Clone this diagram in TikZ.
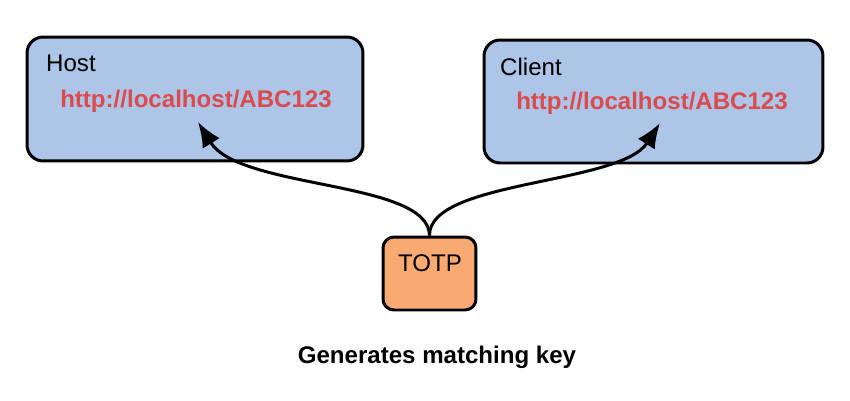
\documentclass[tikz,border=0pt]{standalone}
\usepackage{fontspec}
\setmainfont{Liberation Sans}
\usetikzlibrary{arrows.meta}
\definecolor{boxblue}{HTML}{ADC5E7}
\definecolor{boxorange}{HTML}{F9AA73}
\definecolor{urlred}{HTML}{DB4B4E}
\tikzset{
	panel/.style={draw=black, line width=1.7pt, rounded corners=0.32cm, fill=boxblue},
	keybox/.style={draw=black, line width=1.7pt, rounded corners=0.22cm, fill=boxorange},
	url/.style={text=urlred, font=\fontsize{13.7}{16}\selectfont\bfseries},
	lbl/.style={font=\fontsize{13.7}{16}\selectfont, anchor=west},
	link/.style={line width=1.7pt, -{Latex[length=5mm,width=4mm]}}
}

\begin{document}
\begin{tikzpicture}[x=0.02cm, y=-0.02cm]
			%%%%% START %%%%%
			\useasboundingbox (0, 0) rectangle (850, 400);
			
			\node[panel, minimum width=6.72cm, minimum height=2.48cm] (host) at (195, 99) {};
			\node[lbl] (hostname) at (40, 63) {Host};
			\node[url] (hosturl) at (196, 101) {http://localhost/ABC123};
			
			\node[panel, minimum width=6.78cm, minimum height=2.46cm] (client) at (653.5, 101.5) {};
			\node[lbl] (clientname) at (494, 67) {Client};
			\node[url] (clienturl) at (652, 103) {http://localhost/ABC123};
			
			\node[keybox, minimum width=1.86cm, minimum height=1.46cm] (totp) at (429.5, 273.5) {};
			\node[font=\fontsize{13.7}{16}\selectfont] (totpname) at (430, 263) {TOTP};
			
			\coordinate (hosttip) at (198, 122);
			\coordinate (clienttip) at (660, 123);
			\draw[link] (totp.north) .. controls (429, 180) and (240, 190) .. (hosttip);
			\draw[link] (totp.north) .. controls (429, 180) and (620, 185) .. (clienttip);
			
			\node[font=\fontsize{13.7}{16}\selectfont\bfseries] (caption) at (437, 357) {Generates matching key};
			%%%%% END %%%%%
\end{tikzpicture}
\end{document}
